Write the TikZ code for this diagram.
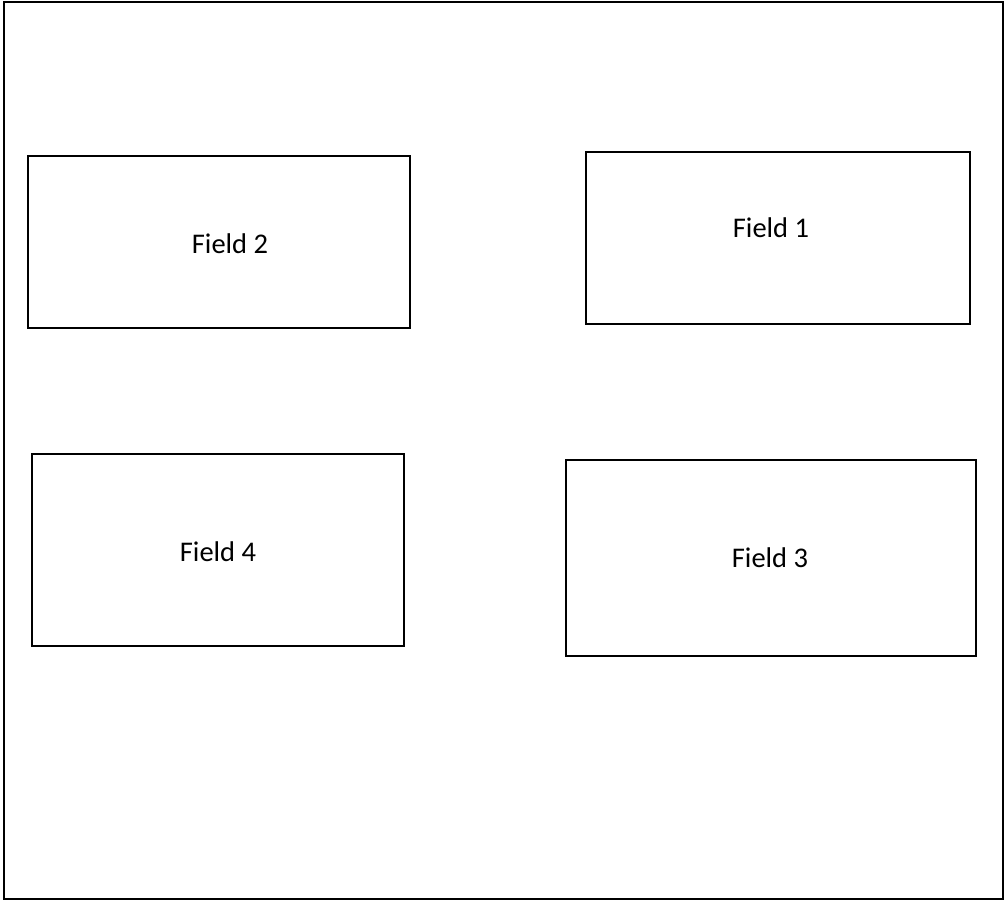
\documentclass[tikz,border=0pt]{standalone}
\usepackage{fontspec}
\setmainfont{Carlito}
\begin{document}
\begin{tikzpicture}[x=1pt,y=-1pt,
  fieldbox/.style={draw=black,line width=1.6pt,fill=none},
  fieldlabel/.style={font=\fontsize{28.5}{33}\selectfont,inner sep=0pt,anchor=center}]
\useasboundingbox (0,0) rectangle (1006,901);
\draw[fieldbox] (4,2) rectangle (1003,899);
% Field 2
\draw[fieldbox] (28,156) rectangle (410,328);
\node[fieldlabel] (f2) at (230,244) {Field 2};
% Field 1
\draw[fieldbox] (586,152) rectangle (970,324);
\node[fieldlabel] (f1) at (771,228) {Field 1};
% Field 4
\draw[fieldbox] (32,454) rectangle (404,646);
\node[fieldlabel] (f4) at (218,552) {Field 4};
% Field 3
\draw[fieldbox] (566,460) rectangle (976,656);
\node[fieldlabel] (f3) at (770,558) {Field 3};
\end{tikzpicture}
\end{document}
